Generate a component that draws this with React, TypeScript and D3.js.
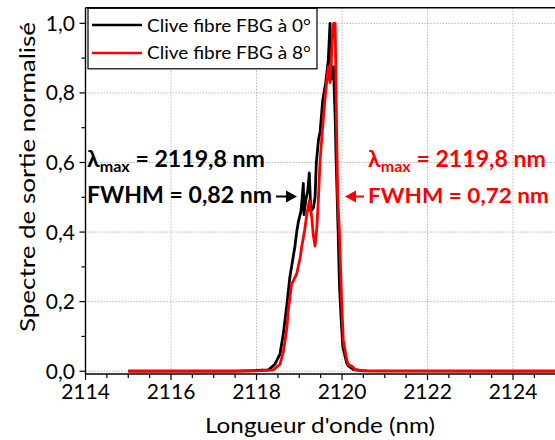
import React from "react";
import * as d3 from "d3";

// ---- data ----
const seriesNames = ["Clive fibre FBG à 0°", "Clive fibre FBG à 8°"];

const blackWl = [2115.0, 2117.5, 2118.0, 2118.28, 2118.43, 2118.55, 2118.63, 2118.67, 2118.71, 2118.74, 2118.78, 2118.82, 2118.86, 2118.9, 2118.94, 2118.98, 2119.04, 2119.07, 2119.095, 2119.11, 2119.15, 2119.2, 2119.235, 2119.27, 2119.33, 2119.37, 2119.4, 2119.45, 2119.49, 2119.55, 2119.62, 2119.68, 2119.72, 2119.75, 2119.8, 2119.84, 2119.86, 2119.91, 2119.94, 2119.98, 2120.02, 2120.11, 2120.15, 2120.26, 2120.5, 2126.0];
const blackVal = [0, 0, 0.002, 0.004, 0.02, 0.05, 0.11, 0.15, 0.19, 0.225, 0.27, 0.3, 0.33, 0.36, 0.4, 0.43, 0.46, 0.5, 0.54, 0.45, 0.49, 0.52, 0.57, 0.46, 0.47, 0.5, 0.6, 0.665, 0.69, 0.78, 0.83, 0.895, 1.0, 0.84, 0.875, 0.73, 0.62, 0.4, 0.25, 0.15, 0.07, 0.023, 0.015, 0.005, 0.001, 0];

const redWl = [2115.0, 2117.5, 2118.0, 2118.39, 2118.55, 2118.63, 2118.67, 2118.71, 2118.74, 2118.78, 2118.82, 2118.86, 2118.94, 2119.02, 2119.06, 2119.12, 2119.17, 2119.235, 2119.29, 2119.33, 2119.37, 2119.41, 2119.45, 2119.485, 2119.54, 2119.6, 2119.64, 2119.68, 2119.72, 2119.76, 2119.8, 2119.84, 2119.875, 2119.9, 2119.94, 2119.99, 2120.03, 2120.11, 2120.15, 2120.26, 2120.3, 2120.6, 2126.0];
const redVal = [0, 0, 0.001, 0.004, 0.02, 0.057, 0.09, 0.124, 0.17, 0.21, 0.25, 0.26, 0.28, 0.325, 0.36, 0.4, 0.445, 0.49, 0.445, 0.39, 0.36, 0.41, 0.5, 0.6, 0.69, 0.78, 0.83, 0.875, 0.83, 0.92, 1.0, 1.0, 0.685, 0.5, 0.4, 0.205, 0.09, 0.033, 0.019, 0.012, 0.004, 0.001, 0];

const xMajorTicks = [2114, 2116, 2118, 2120, 2122, 2124];
const yMajorTicks = [0, 0.2, 0.4, 0.6, 0.8, 1.0];

const xTitle = "Longueur d'onde (nm)";
const yTitle = "Spectre de sortie normalisé";
const annLambda = "2119,8 nm";
const annFwhmBlack = "0,82";
const annFwhmRed = "0,72";

const W = 555;
const H = 440;
const FONT = "Lato, 'Open Sans', sans-serif";

export default function App() {
  const x = d3.scaleLinear().domain([2114, 2126]).range([85.5, 598.5]);
  const y = d3.scaleLinear().domain([-0.008, 1.045]).range([374, 7.7]);

  const line = d3
    .line<[number, number]>()
    .x((d) => x(d[0]))
    .y((d) => y(d[1]));

  const black = blackWl.map((w, i) => [w, blackVal[i]] as [number, number]);
  const red = redWl.map((w, i) => [w, redVal[i]] as [number, number]);

  const xMinor = d3.range(2114, 2126.01, 0.5);
  const yMinor = d3.range(0, 1.001, 0.1);
  const fmtY = (v: number) => v.toFixed(1).replace(".", ",");

  const [x0, x1] = x.range();
  const [yb, yt] = y.range();

  return (
    <svg
      width={W}
      height={H}
      style={{ position: "absolute", left: 0, top: 0, background: "#fff" }}
      fontFamily={FONT}
    >
      <defs>
        <clipPath id="plot">
          <rect x={x0} y={yt} width={x1 - x0} height={yb - yt} />
        </clipPath>
      </defs>
      {/* grid */}
      <g stroke="#b8b8b8" strokeWidth={1} strokeDasharray="1.5,1.5">
        {xMajorTicks.map((t) => (
          <line key={"gx" + t} x1={x(t)} x2={x(t)} y1={yt} y2={yb} />
        ))}
        {yMajorTicks.map((t) => (
          <line key={"gy" + t} x1={x0} x2={x1} y1={y(t)} y2={y(t)} />
        ))}
      </g>

      {/* curves */}
      <g clipPath="url(#plot)" fill="none" strokeLinejoin="round">
        <path d={line(black) || ""} stroke="#000" strokeWidth={2.8} />
        <path d={line(red) || ""} stroke="#ff0000" strokeWidth={2.8} />
      </g>

      {/* frame */}
      <g stroke="#000" strokeWidth={1.4} fill="none">
        <line x1={x0} x2={x0} y1={yt} y2={yb} />
        <line x1={x0} x2={x1} y1={yb} y2={yb} />
        <line x1={x0} x2={x1} y1={yt} y2={yt} />
      </g>

      {/* x ticks */}
      <g stroke="#000" strokeWidth={1.2}>
        {xMinor.map((t) => {
          const major = Math.abs(t - Math.round(t)) < 1e-6 && Math.round(t) % 2 === 0;
          return <line key={"xt" + t} x1={x(t)} x2={x(t)} y1={yb} y2={yb + (major ? 6 : 4)} />;
        })}
      </g>
      <g fontSize={21} textAnchor="middle" fill="#000">
        {xMajorTicks.map((t) => (
          <text key={"xl" + t} x={x(t)} y={399}>
            {t}
          </text>
        ))}
      </g>

      {/* y ticks */}
      <g stroke="#000" strokeWidth={1.2}>
        {yMinor.map((t, i) => (
          <line key={"yt" + i} x1={x0} x2={x0 - (i % 2 === 0 ? 6 : 4)} y1={y(t)} y2={y(t)} />
        ))}
      </g>
      <g fontSize={21} textAnchor="end" fill="#000">
        {yMajorTicks.map((t) => (
          <text key={"yl" + t} x={75} y={y(t) + 7.5}>
            {fmtY(t)}
          </text>
        ))}
      </g>

      {/* axis titles */}
      <text x={320} y={433} fontSize={22} textAnchor="middle" textLength={230} lengthAdjust="spacingAndGlyphs">
        {xTitle}
      </text>
      <text
        transform="translate(35,177) rotate(-90)"
        fontSize={22}
        textAnchor="middle"
        textLength={310}
        lengthAdjust="spacingAndGlyphs"
      >
        {yTitle}
      </text>

      {/* legend */}
      <g>
        <rect x={88} y={8.3} width={229} height={60.5} fill="#fff" stroke="#000" strokeWidth={1.2} />
        <line x1={92} x2={142} y1={25} y2={25} stroke="#000" strokeWidth={2.6} />
        <line x1={92} x2={142} y1={53} y2={53} stroke="#ff0000" strokeWidth={2.6} />
        <text x={147} y={31.5} fontSize={18} textLength={164} lengthAdjust="spacingAndGlyphs">
          {seriesNames[0]}
        </text>
        <text x={147} y={59} fontSize={18} textLength={164} lengthAdjust="spacingAndGlyphs">
          {seriesNames[1]}
        </text>
      </g>

      {/* annotations black */}
      <g fontWeight="bold" fill="#000">
        <text x={87} y={167} fontSize={23} textLength={178} lengthAdjust="spacingAndGlyphs">
          λ<tspan fontSize={16} dy={5}>max</tspan>
          <tspan dy={-5}>{" = " + annLambda}</tspan>
        </text>
        <text x={87} y={203} fontSize={23} textLength={185} lengthAdjust="spacingAndGlyphs">
          {"FWHM = " + annFwhmBlack + " nm"}
        </text>
      </g>
      <line x1={276} x2={288} y1={196.5} y2={196.5} stroke="#000" strokeWidth={2} />
      <path d="M297,196.5 L286,190.5 L286,202.5 Z" fill="#000" />

      {/* annotations red */}
      <g fontWeight="bold" fill="#ff0000">
        <text x={368} y={167} fontSize={23} textLength={178} lengthAdjust="spacingAndGlyphs">
          λ<tspan fontSize={16} dy={5}>max</tspan>
          <tspan dy={-5}>{" = " + annLambda}</tspan>
        </text>
        <text x={368} y={203} fontSize={21.5} textLength={181} lengthAdjust="spacingAndGlyphs">
          {"FWHM = " + annFwhmRed + " nm"}
        </text>
      </g>
      <line x1={354} x2={364} y1={196.5} y2={196.5} stroke="#ff0000" strokeWidth={2} />
      <path d="M345,196.5 L356,190.5 L356,202.5 Z" fill="#ff0000" />
    </svg>
  );
}
